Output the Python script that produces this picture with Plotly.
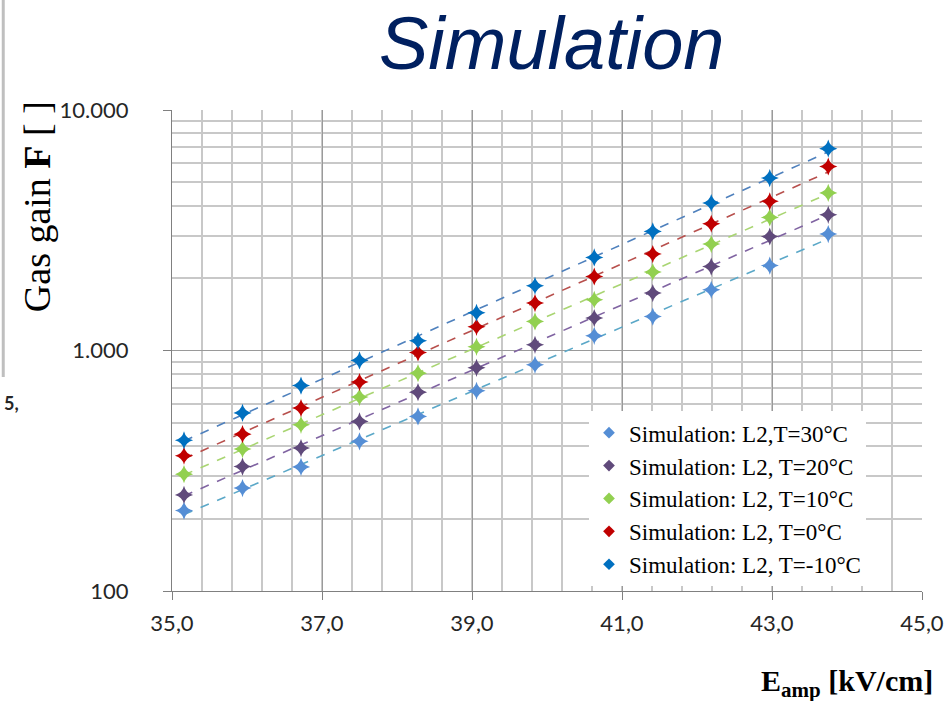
import numpy as np
import plotly.graph_objects as go

# ---- data ----
e_amp = [35.16, 35.94, 36.72, 37.50, 38.28, 39.06, 39.84, 40.63, 41.41, 42.19, 42.97, 43.75]

gain_30 = [216, 268, 328, 419, 532, 680, 872, 1151, 1384, 1787, 2255, 3048]
gain_20 = [251, 329, 393, 507, 671, 847, 1056, 1364, 1733, 2233, 2978, 3665]
gain_10 = [306, 389, 491, 640, 805, 1036, 1321, 1626, 2120, 2771, 3575, 4520]
gain_0 = [365, 449, 576, 739, 981, 1255, 1574, 2031, 2517, 3366, 4171, 5823]
gain_m10 = [423, 550, 715, 909, 1097, 1435, 1858, 2437, 3126, 4101, 5212, 6905]

series_names = [
    "Simulation: L2,T=30°C",
    "Simulation: L2, T=20°C",
    "Simulation: L2, T=10°C",
    "Simulation: L2, T=0°C",
    "Simulation: L2, T=-10°C",
]
series_values = [gain_30, gain_20, gain_10, gain_0, gain_m10]
marker_colors = ["#558ED5", "#604A7B", "#92D050", "#C00000", "#0070C0"]
line_colors = ["#5BA8C8", "#8064A2", "#A9D572", "#B8504D", "#4F81BD"]

x_tickvals = [35, 37, 39, 41, 43, 45]
x_ticktext = ["35,0", "37,0", "39,0", "41,0", "43,0", "45,0"]
y_tickvals = [100, 1000, 10000]
y_ticktext = ["100", "1.000", "10.000"]

fig = go.Figure()

xs = np.array(e_amp)
# trendlines (exponential fits)
for vals, lc in zip(series_values, line_colors):
    b, a = np.polyfit(xs, np.log(np.array(vals)), 1)
    fig.add_trace(go.Scatter(x=xs, y=np.exp(a + b * xs), mode="lines",
                             line=dict(color=lc, width=1.6, dash="dash"),
                             showlegend=False, hoverinfo="skip"))

# data markers
for vals, mc in zip(series_values, marker_colors):
    fig.add_trace(go.Scatter(x=e_amp, y=vals, mode="markers",
                             marker=dict(symbol="star-diamond", size=13, color=mc,
                                         line=dict(width=0)),
                             showlegend=False))

# legend entries
for name, mc in zip(series_names, marker_colors):
    fig.add_trace(go.Scatter(x=[None], y=[None], mode="markers", name=name,
                             marker=dict(symbol="diamond", size=9, color=mc)))

grid_minor = "#C8C8C8"
grid_major = "#9A9A9A"

fig.update_layout(
    width=947, height=701,
    margin=dict(l=172, r=25, t=110, b=110),
    paper_bgcolor="white", plot_bgcolor="white",
    separators=",.",
    showlegend=True,
    legend=dict(x=0.556, y=0.01, xanchor="left", yanchor="bottom",
                bgcolor="white", borderwidth=0,
                font=dict(family="Liberation Serif", size=23, color="black"),
                itemwidth=30, tracegroupgap=0),
    xaxis=dict(range=[35, 45], tickvals=x_tickvals, ticktext=x_ticktext,
               automargin=False, ticklabeloverflow="allow",
               showgrid=True, gridcolor=grid_major, gridwidth=1,
               minor=dict(dtick=0.4, tick0=35, showgrid=True, gridcolor=grid_minor, gridwidth=1.5),
               ticks="outside", ticklen=8, tickcolor="#808080",
               showline=True, linecolor="#808080", zeroline=False,
               tickfont=dict(family="Lato", size=22, color="#262626"),
               ticklabelstandoff=5),
    yaxis=dict(type="log", range=[2, 4], tickvals=y_tickvals, ticktext=y_ticktext,
               automargin=False, ticklabeloverflow="allow",
               showgrid=True, gridcolor=grid_major, gridwidth=1,
               minor=dict(tickvals=[m * d for d in (100, 1000) for m in range(2, 10)],
                          showgrid=True, gridcolor=grid_minor, gridwidth=1.5),
               ticks="outside", ticklen=8, tickcolor="#808080",
               showline=True, linecolor="#808080", zeroline=False,
               tickfont=dict(family="Lato", size=22, color="#262626"),
               ticklabelstandoff=30),
    annotations=[
        dict(text="<i>Simulation</i>", x=0.506, y=1.2287, xref="paper", yref="paper",
             xanchor="center", yanchor="top", showarrow=False,
             font=dict(family="Liberation Sans", size=74, color="#002060")),
        dict(text="Gas gain <b>F</b> [ ]", x=-0.18, y=0.798, xref="paper", yref="paper",
             xanchor="center", yanchor="middle", showarrow=False, textangle=-90,
             font=dict(family="Liberation Serif", size=38, color="black")),
        dict(text="<b>E<sub>amp</sub> [kV/cm]</b>", x=0.9, y=-0.191, xref="paper", yref="paper",
             xanchor="center", yanchor="middle", showarrow=False,
             font=dict(family="Liberation Serif", size=30, color="black")),
        dict(text="<b>5,</b>", x=-0.2265, y=0.39, xref="paper", yref="paper",
             xanchor="left", yanchor="middle", showarrow=False,
             font=dict(family="Lato", size=18, color="#262626")),
    ],
    shapes=[
        dict(type="line", xref="paper", yref="paper", x0=-0.225, x1=-0.225, y0=1.23, y1=0.445,
             line=dict(color="#BFBFBF", width=3)),
    ],
)

fig.write_html("out.html")
